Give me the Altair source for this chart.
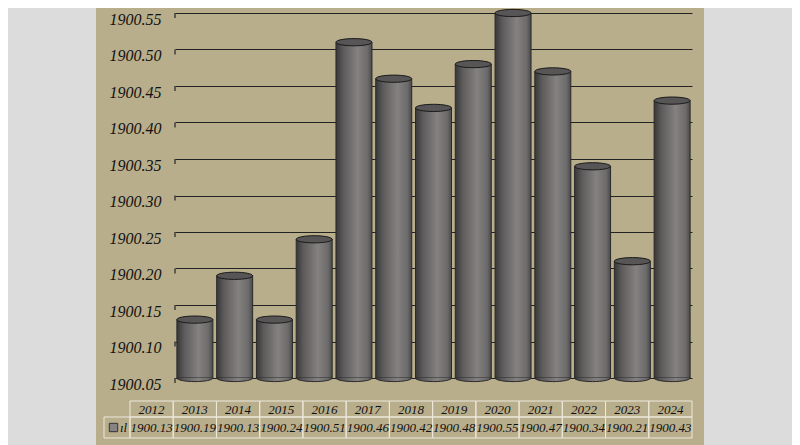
import altair as alt
import pandas as pd

# ---- data ----
years = ["2012", "2013", "2014", "2015", "2016", "2017", "2018",
         "2019", "2020", "2021", "2022", "2023", "2024"]
values = [1900.13, 1900.19, 1900.13, 1900.24, 1900.51, 1900.46, 1900.42,
          1900.48, 1900.55, 1900.47, 1900.34, 1900.21, 1900.43]
value_labels = ["1900.13", "1900.19", "1900.13", "1900.24", "1900.51", "1900.46", "1900.42",
                "1900.48", "1900.55", "1900.47", "1900.34", "1900.21", "1900.43"]
y_ticks = [1900.05, 1900.10, 1900.15, 1900.20, 1900.25, 1900.30,
           1900.35, 1900.40, 1900.45, 1900.50, 1900.55]
series_label = "ıl"
y_min, y_max = 1900.05, 1900.55

df = pd.DataFrame({"year": years, "value": values, "label": value_labels})
df["base"] = y_min
ticks_df = pd.DataFrame({"t": y_ticks})
one = pd.DataFrame({"a": [0]})

# ---- layout ----
W, H = 517, 365
PAD_L, PAD_T = 167, 5
TOTAL_W, TOTAL_H = 784, 437
FONT = "Liberation Serif"
TAN = "#B9AE8C"
GRAY = "#DCDCDC"

grad_body = alt.Gradient(
    gradient="linear", x1=0, x2=1, y1=0, y2=0,
    stops=[
        alt.GradientStop(color="#383838", offset=0),
        alt.GradientStop(color="#5c5a5a", offset=0.2),
        alt.GradientStop(color="#858181", offset=0.6),
        alt.GradientStop(color="#6c6a6a", offset=0.88),
        alt.GradientStop(color="#4a4a4a", offset=1),
    ],
)

x_bar = alt.X("year:N", sort=years, axis=None,
              scale=alt.Scale(paddingInner=0, paddingOuter=0))
y_scale = alt.Scale(domain=[y_min, y_max], zero=False, nice=False)
y_axis = alt.Axis(values=y_ticks, tickCount=30, format=".2f", labelFont=FONT,
                  labelFontStyle="italic", labelFontSize=16, labelColor="#111111",
                  domain=False, ticks=False, labelPadding=14, labelOffset=6,
                  labelOverlap=False, labelBound=False,
                  grid=True, gridColor="#222222", gridWidth=1.2,
                  gridOpacity=1, title=None)

side_left = alt.Chart(one).mark_rect(color=GRAY).encode(
    x=alt.value(-PAD_L), x2=alt.value(-79), y=alt.value(-PAD_T), y2=alt.value(TOTAL_H))
side_right = alt.Chart(one).mark_rect(color=GRAY).encode(
    x=alt.value(529), x2=alt.value(TOTAL_W), y=alt.value(-PAD_T), y2=alt.value(TOTAL_H))

wall_ticks = alt.Chart(ticks_df).mark_point(
    shape="M 0 0 L 0 1", size=100, filled=False, stroke="#222222", strokeWidth=1.2, opacity=1
).encode(x=alt.value(0), y=alt.Y("t:Q", scale=y_scale, axis=y_axis))

bars = alt.Chart(df).mark_bar(size=36, fill=grad_body, stroke="#2a2a2a", strokeWidth=1).encode(
    x=x_bar, y=alt.Y("value:Q", scale=y_scale, axis=y_axis), y2="base:Q")

bottoms = alt.Chart(df).mark_point(
    shape="M -1 0 A 1 0.2 0 0 0 1 0", size=1296, filled=True, fill=grad_body,
    stroke="#2a2a2a", strokeWidth=1, opacity=1
).encode(x=x_bar, y=alt.Y("base:Q", scale=y_scale, axis=y_axis))

tops = alt.Chart(df).mark_point(
    shape="M -1 0 A 1 0.2 0 1 1 1 0 A 1 0.2 0 1 1 -1 0 Z", size=1296, filled=True,
    fill="#575555", stroke="#1a1a1a", strokeWidth=1, opacity=1
).encode(x=x_bar, y=alt.Y("value:Q", scale=y_scale, axis=y_axis))

# ---- data table ----
x_tab = alt.X("year:N", sort=years, axis=None,
              scale=alt.Scale(range=[-45, 517], paddingInner=0, paddingOuter=0))
CELL = "#ECE8DC"
head_cells = alt.Chart(df).mark_rect(fillOpacity=0, stroke=CELL, strokeWidth=1).encode(
    x=x_tab, y=alt.value(388), y2=alt.value(404))
val_cells = alt.Chart(df).mark_rect(fillOpacity=0, stroke=CELL, strokeWidth=1).encode(
    x=x_tab, y=alt.value(404), y2=alt.value(425))
legend_cell = alt.Chart(one).mark_rect(fillOpacity=0, stroke=CELL, strokeWidth=1).encode(
    x=alt.value(-71), x2=alt.value(-45), y=alt.value(404), y2=alt.value(425))
head_text = alt.Chart(df).mark_text(font=FONT, fontStyle="italic", fontSize=13,
                                    color="#111111", baseline="middle").encode(
    x=x_tab, y=alt.value(396.5), text="year:N")
val_text = alt.Chart(df).mark_text(font=FONT, fontStyle="italic", fontSize=13,
                                   color="#111111", baseline="middle").encode(
    x=x_tab, y=alt.value(414.5), text="label:N")
legend_sym = alt.Chart(one).mark_point(shape="square", size=70, filled=True, fill="#858383",
                                       stroke="#333333", strokeWidth=1, opacity=1).encode(
    x=alt.value(-61.5), y=alt.value(414.5))
legend_text = alt.Chart(pd.DataFrame({"s": [series_label]})).mark_text(
    font=FONT, fontStyle="italic", fontSize=13, color="#111111", align="left",
    baseline="middle").encode(x=alt.value(-55), y=alt.value(414.5), text="s:N")

chart = alt.layer(
    side_left, side_right, wall_ticks, bars, bottoms, tops,
    head_cells, val_cells, legend_cell, head_text, val_text, legend_sym, legend_text,
).resolve_scale(x="independent").properties(
    width=W, height=H,
    padding={"left": PAD_L, "top": PAD_T, "right": TOTAL_W - PAD_L - W, "bottom": TOTAL_H - PAD_T - H},
    autosize=alt.AutoSizeParams(type="none"),
    background=TAN,
).configure_view(stroke=None)

chart.save("out.html", embed_options={"renderer": "svg", "actions": False})
